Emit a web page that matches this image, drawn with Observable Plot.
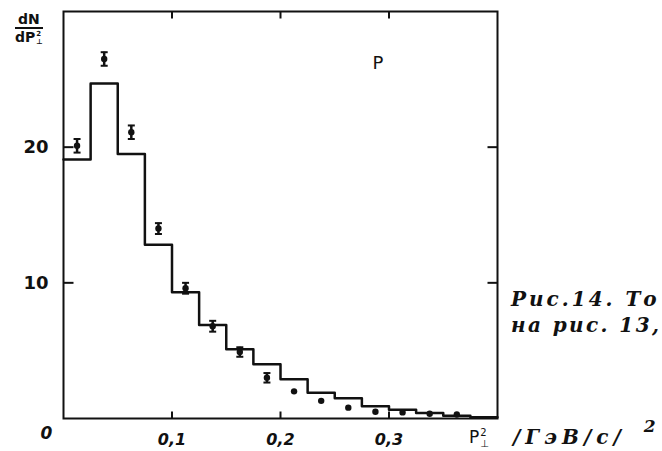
<!DOCTYPE html>
<html>
<head>
<meta charset="utf-8">
<script src="https://cdn.jsdelivr.net/npm/d3@7"></script>
<script src="https://cdn.jsdelivr.net/npm/@observablehq/plot@0.6"></script>
<style>
  html, body { margin: 0; padding: 0; background: #fff; }
  #wrap { position: relative; width: 662px; height: 451px; overflow: hidden; }
  .ov { position: absolute; color: #111; white-space: nowrap; }
  .hand { font-family: "DejaVu Sans", sans-serif; font-weight: bold; }
  .cap { font-family: "DejaVu Serif", serif; font-weight: bold; font-style: italic; font-size: 20px; letter-spacing: 2.4px; }
  .stack { display: inline-block; vertical-align: middle; line-height: 11px; font-size: 10px; text-align: left; margin-left: 1px; }
</style>
</head>
<body>
<div id="wrap"></div>
<script>
// Histogram bins (left edges) and heights, dN/dP⊥²
const binEdges = [0, 0.025, 0.05, 0.075, 0.1, 0.125, 0.15, 0.175, 0.2, 0.225, 0.25, 0.275, 0.3, 0.325, 0.35, 0.375, 0.4];
const histValues = [19.1, 24.7, 19.5, 12.8, 9.3, 6.9, 5.1, 4.0, 2.9, 1.9, 1.5, 0.9, 0.65, 0.4, 0.2, 0.1];
// Experimental points (bin centres), values and errors
const pointX = [0.0125, 0.0375, 0.0625, 0.0875, 0.1125, 0.1375, 0.1625, 0.1875, 0.2125, 0.2375, 0.2625, 0.2875, 0.3125, 0.3375, 0.3625];
const pointY = [20.1, 26.5, 21.1, 14.0, 9.6, 6.8, 4.9, 3.0, 2.0, 1.3, 0.8, 0.5, 0.45, 0.35, 0.3];
const pointErr = [0.5, 0.5, 0.5, 0.4, 0.4, 0.4, 0.35, 0.35, 0, 0, 0, 0, 0, 0, 0];
// Axis ticks and labels
const xTicks = [0.1, 0.2, 0.3];
const xTickLabels = ["0,1", "0,2", "0,3"];
const yTicks = [10, 20];
const yTickLabels = ["10", "20"];

const steps = histValues.map((v, i) => ({x: binEdges[i], y: v}));
steps.push({x: binEdges[binEdges.length - 1], y: histValues[histValues.length - 1]});
const points = pointX.map((x, i) => ({x, y: pointY[i], e: pointErr[i]}));
const errPts = points.filter(d => d.e > 0);

const hbar = {draw(ctx, size) { const w = Math.sqrt(size / Math.PI); ctx.moveTo(-w, 0); ctx.lineTo(w, 0); }};

const W = 662, H = 451, mL = 63, mR = 165, mT = 11, mB = 33;
const xDom = [0, 0.4], yDom = [0, 30];
const innerW = W - mL - mR, innerH = H - mT - mB;
// inward tick lengths (px) converted to data units
const tickLenX = 7 * (yDom[1] - yDom[0]) / innerH;
const tickLenY = 10 * (xDom[1] - xDom[0]) / innerW;

const bottomTicks = xTicks.map(v => ({x: v, y1: yDom[0], y2: yDom[0] + tickLenX}));
const topTicks = xTicks.map(v => ({x: v, y1: yDom[1], y2: yDom[1] - tickLenX}));
const leftTicks = yTicks.map(v => ({y: v, x1: xDom[0], x2: xDom[0] + tickLenY}));
const rightTicks = yTicks.map(v => ({y: v, x1: xDom[1], x2: xDom[1] - tickLenY}));

const plot = Plot.plot({
  width: W,
  height: H,
  marginLeft: mL,
  marginRight: mR,
  marginTop: mT,
  marginBottom: mB,
  style: {fontFamily: "DejaVu Sans, sans-serif", color: "#111", background: "transparent", overflow: "visible"},
  x: {domain: xDom},
  y: {domain: yDom},
  marks: [
    Plot.frame({stroke: "#111", strokeWidth: 2}),
    // inward tick marks
    Plot.link(bottomTicks, {x1: "x", x2: "x", y1: "y1", y2: "y2", stroke: "#111", strokeWidth: 2}),
    Plot.link(topTicks, {x1: "x", x2: "x", y1: "y1", y2: "y2", stroke: "#111", strokeWidth: 2}),
    Plot.link(leftTicks, {y1: "y", y2: "y", x1: "x1", x2: "x2", stroke: "#111", strokeWidth: 2}),
    Plot.link(rightTicks, {y1: "y", y2: "y", x1: "x1", x2: "x2", stroke: "#111", strokeWidth: 2}),
    // tick labels
    Plot.axisX(xTicks, {anchor: "bottom", label: null, tickSize: 0, tickPadding: 15, fontSize: 16, fontWeight: "bold", fontStyle: "italic", tickFormat: (d, i) => xTickLabels[i]}),
    Plot.axisY(yTicks, {anchor: "left", label: null, tickSize: 0, tickPadding: 15, fontSize: 18, fontWeight: "bold", tickFormat: (d, i) => yTickLabels[i]}),
    Plot.text([0], {x: 0, y: 0, text: () => "0", dx: -17, dy: 15, fontSize: 17, fontWeight: "bold", fontStyle: "italic"}),
    Plot.line(steps, {x: "x", y: "y", curve: "step-after", stroke: "#111", strokeWidth: 2.5}),
    Plot.ruleX(errPts, {x: "x", y1: d => d.y - d.e, y2: d => d.y + d.e, stroke: "#111", strokeWidth: 2.5}),
    Plot.dot(errPts, {x: "x", y: d => d.y - d.e, symbol: hbar, r: 3.5, stroke: "#111", strokeWidth: 2}),
    Plot.dot(errPts, {x: "x", y: d => d.y + d.e, symbol: hbar, r: 3.5, stroke: "#111", strokeWidth: 2}),
    Plot.dot(points, {x: "x", y: "y", r: 3.2, fill: "#111", stroke: "none"}),
    Plot.text(["P"], {frameAnchor: "top-left", dx: 309, dy: 45, fontSize: 18, text: d => d})
  ]
});

const wrap = document.getElementById("wrap");
wrap.appendChild(plot);

function ov(html, cls, left, top, extra) {
  const d = document.createElement("div");
  d.className = "ov " + cls;
  d.style.left = left + "px";
  d.style.top = top + "px";
  if (extra) Object.assign(d.style, extra);
  d.innerHTML = html;
  wrap.appendChild(d);
}
// y-axis label as a fraction
ov('<div style="text-align:center;line-height:15px;font-size:14px"><div style="border-bottom:2px solid #111;padding:0 1px">dN</div><div style="line-height:16px">dP<span class="stack" style="font-size:7px;line-height:8px">2<br>⊥</span></div></div>', "hand", 15, 12);
// x-axis end label
ov('P<span class="stack">2<br>⊥</span>', "hand", 469, 425, {fontSize: "17px", fontWeight: "normal", lineHeight: "24px"});
// units and caption fragments
ov('/ГэВ/с/&nbsp;<sup style="font-size:17px;position:relative;top:-4px;margin-left:6px">2</sup>', "cap", 513, 420, {letterSpacing: "5px"});
ov('Рис.14. То', "cap", 511, 287, {letterSpacing: "3px"});
ov('на рис. 13,', "cap", 511, 313);
</script>
</body>
</html>
